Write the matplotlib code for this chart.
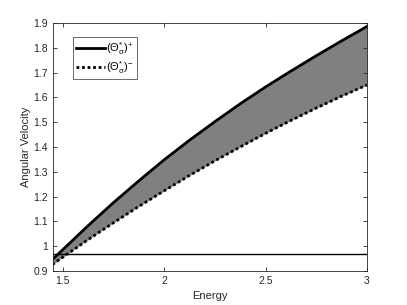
import matplotlib
matplotlib.use("Agg")
import matplotlib.pyplot as plt
import numpy as np

energy = [1.45, 1.5, 1.625, 1.75, 1.875, 2.0, 2.125, 2.25, 2.375, 2.5, 2.625, 2.75, 2.875, 3.0]
theta_plus = [0.946, 0.985, 1.082, 1.175, 1.263, 1.348, 1.427, 1.502, 1.574, 1.642, 1.706, 1.768, 1.828, 1.886]
theta_minus = [0.926, 0.955, 1.026, 1.094, 1.160, 1.223, 1.285, 1.344, 1.400, 1.455, 1.507, 1.557, 1.605, 1.650]
baseline = 0.968

plt.rcParams['font.family'] = ['Liberation Sans', 'DejaVu Sans']
plt.rcParams['mathtext.fontset'] = 'custom'
plt.rcParams['mathtext.rm'] = 'Liberation Sans'
plt.rcParams['mathtext.it'] = 'Liberation Sans'

fig = plt.figure(figsize=(4.07, 3.05), dpi=100)
ax = fig.add_axes([53/407, 1 - 271/305, (367-53)/407, (271-23)/305])

ax.fill_between(energy, theta_minus, theta_plus, color='#808080', linewidth=0)
ax.plot(energy, theta_plus, color='black', linewidth=2, label=r'$(\Theta^{*}_{\sigma})^{+}$')
ax.plot(energy, theta_minus, color='black', linewidth=2, linestyle=(0, (1, 1)), label=r'$(\Theta^{*}_{\sigma})^{-}$')
ax.axhline(baseline, color='black', linewidth=1)

ax.set_xlim(1.453, 3)
ax.set_ylim(0.9, 1.9)
ax.set_xticks([1.5, 2, 2.5, 3])
ax.set_xticklabels(['1.5', '2', '2.5', '3'])
ax.set_yticks(np.round(np.arange(0.9, 1.91, 0.1), 1))
ax.set_yticklabels(['0.9', '1', '1.1', '1.2', '1.3', '1.4', '1.5', '1.6', '1.7', '1.8', '1.9'])
ax.tick_params(direction='in', top=True, right=True, labelsize=7.5, colors='#262626', length=3, width=0.6)
for s in ax.spines.values():
    s.set_color('#262626')
    s.set_linewidth(0.6)
ax.set_xlabel('Energy', fontsize=8, color='#262626', labelpad=4)
ax.set_ylabel('Angular Velocity', fontsize=8, color='#262626', labelpad=2)

leg = ax.legend(loc='upper left', bbox_to_anchor=(0.0635, 0.944), fontsize=8, frameon=True, fancybox=False,
                edgecolor='#262626', handlelength=2.6, borderaxespad=0, borderpad=0.3,
                labelspacing=0.2, handletextpad=0.1)
leg.get_frame().set_linewidth(0.6)

fig.savefig('out.png', dpi=100)
